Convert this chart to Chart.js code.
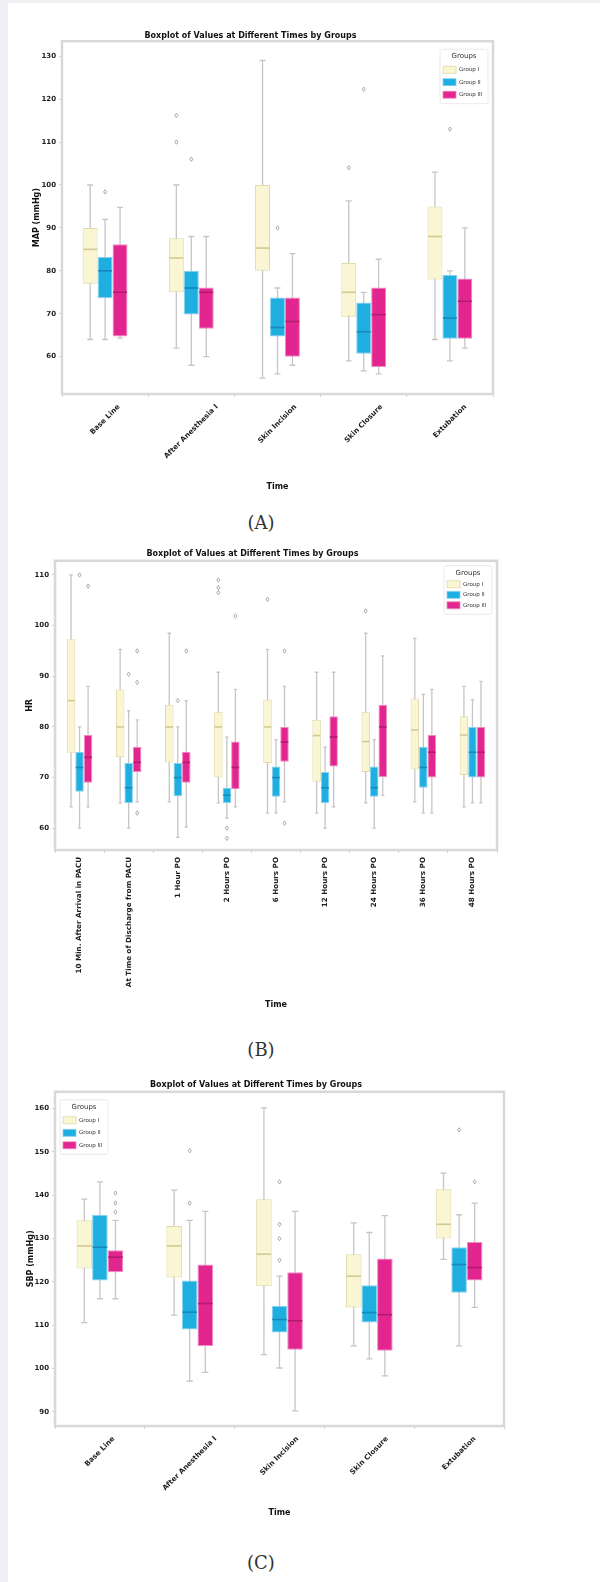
<!DOCTYPE html>
<html>
<head>
<meta charset="utf-8">
<script src="https://cdn.jsdelivr.net/npm/chart.js@4.4.1/dist/chart.umd.min.js"></script>
<style>
  html, body { margin: 0; padding: 0; }
  body { width: 600px; height: 1582px; background: #eef0f3; position: relative; overflow: hidden; }
  .sheet { position: absolute; left: 8px; top: 3px; right: 0; bottom: 0; background: #fff; }
  .wrap { position: absolute; left: 8px; width: 592px; }
  .panel { position: absolute; left: 0; width: 522px; text-align: center; line-height: 21px;
           font-family: "DejaVu Serif", "Liberation Serif", serif; font-size: 18px; color: #333; }
</style>
</head>
<body>
<div class="sheet"></div>
<div class="wrap" style="top:20px;height:480px"><canvas id="chartA"></canvas></div>
<div class="panel" style="top:512px">(A)</div>
<div class="wrap" style="top:540px;height:480px"><canvas id="chartB"></canvas></div>
<div class="panel" style="top:1039px">(B)</div>
<div class="wrap" style="top:1065px;height:460px"><canvas id="chartC"></canvas></div>
<div class="panel" style="top:1552px">(C)</div>

<script>
// ===== DATOS =====
// cada caja: [min, q1, mediana, q3, max]
const groupNames = ['Group I', 'Group II', 'Group III'];

const timesIntraop = ['Base Line', 'After Anesthesia I', 'Skin Incision', 'Skin Closure', 'Extubation'];
const timesPostop = ['10 Min. After Arrival in PACU', 'At Time of Discharge from PACU', '1 Hour PO',
  '2 Hours PO', '6 Hours PO', '12 Hours PO', '24 Hours PO', '36 Hours PO', '48 Hours PO'];

// (A)
const ticksA = [60, 70, 80, 90, 100, 110, 120, 130];
const boxesA_g1 = [[64, 77, 85, 90, 100], [62, 75, 83, 87.6, 100], [55, 80, 85.3, 100, 129], [59, 69.3, 75, 81.8, 96.3], [64, 78, 88, 95, 103]];
const boxesA_g2 = [[64, 73.6, 80, 83.2, 92], [58, 69.8, 76, 80, 88], [56, 64.7, 66.8, 73.8, 76], [56.7, 60.7, 65.8, 72.6, 75], [59, 64.2, 69, 79, 80]];
const boxesA_g3 = [[64.3, 64.7, 75, 86.2, 94.8], [60, 66.5, 75, 76.1, 88], [58, 60, 68.2, 73.8, 84], [56, 57.6, 69.8, 76.1, 82.7], [62, 64.2, 72.9, 78.2, 90]];
const outliersA_g1 = [[1, 116.2], [1, 110], [3, 104]];
const outliersA_g2 = [[0, 98.4], [1, 106], [2, 90], [3, 122.3], [4, 113]];
const outliersA_g3 = [];

// (B)
const ticksB = [60, 70, 80, 90, 100, 110];
const boxesB_g1 = [[64.2, 74.9, 85.2, 97.3, 110], [65, 74, 80, 87.4, 95.3], [65.2, 73, 80, 84.4, 98.5],
  [65, 70, 80, 83, 90.8], [63, 72.9, 80, 85.4, 95.3], [63, 69.2, 78.3, 81.4, 90.8],
  [65, 71.1, 77.1, 83, 98.5], [65.2, 71.6, 79.4, 85.6, 97.5], [64.2, 70.5, 78.4, 82.1, 88]];
const boxesB_g2 = [[60, 67.2, 72, 75.1, 80], [60, 65, 68, 72.9, 83.2], [58.2, 66.3, 70, 72.9, 80],
  [62, 65, 66.5, 68, 78], [63, 66.2, 70, 72.2, 77.5], [60, 65, 68, 71.1, 76],
  [60, 66.2, 68, 72.2, 77.5], [63, 68, 72, 76.1, 86.4], [65, 70, 75, 80, 85.4]];
const boxesB_g3 = [[64.2, 69, 74, 78.4, 88], [65.2, 71.1, 73, 76.1, 81.4], [60.2, 69, 73, 75.1, 85.2],
  [64.2, 67.7, 72, 77.1, 87.4], [65.2, 73.1, 77, 80, 88], [64.2, 72.2, 78, 82.1, 90.8],
  [66.5, 70.1, 80, 84.4, 94], [63, 70, 75, 78.4, 87.4], [65, 70, 75, 80, 89]];
const outliersB_g1 = [[3, 109], [3, 107.5], [3, 106.5], [4, 105.2], [6, 102.9]];
const outliersB_g2 = [[0, 110], [1, 90.4], [2, 85.2], [3, 60], [3, 58]];
const outliersB_g3 = [[0, 107.8], [1, 95], [1, 88.8], [1, 63], [2, 95], [3, 101.9], [4, 95], [4, 61]];

// (C)
const ticksC = [90, 100, 110, 120, 130, 140, 150, 160];
const boxesC_g1 = [[110.6, 123.1, 128.3, 134.2, 139.1], [112.3, 121, 128.3, 132.9, 141.2], [103.2, 119, 126.4, 139.1, 160.2],
  [105.2, 114.1, 121.3, 126.4, 133.6], [125.2, 130, 133.3, 141.4, 145.1]];
const boxesC_g2 = [[116.1, 120.3, 128, 135.5, 143.1], [97.1, 109, 113, 120.3, 134.2], [100.1, 108.3, 111.3, 114.4, 121.3],
  [102.2, 110.6, 112.9, 119.2, 131.4], [105.2, 117.5, 124, 128, 135.5]];
const boxesC_g3 = [[116.1, 122.2, 125.7, 127.3, 134.2], [99.1, 105.2, 115, 124, 136.3], [90.2, 104.3, 111, 122.2, 136.3],
  [98.3, 104.1, 112.4, 125.4, 135.3], [114.1, 120.3, 123.3, 129.2, 138.2]];
const outliersC_g1 = [];
const outliersC_g2 = [[1, 150.3], [1, 138.2], [2, 143.1], [2, 133.3], [2, 130], [2, 125], [4, 155.1]];
const outliersC_g3 = [[0, 140.5], [0, 138.2], [0, 136.1], [4, 143.1]];

// ===== ESTILO =====
const FONT = '"DejaVu Sans", "Liberation Sans", sans-serif';
const palette = [
  { fill: '#faf5d2', edge: '#e0d9a9', median: '#d3ca92' },
  { fill: '#1eaee0', edge: '#86d2ee', median: '#1888b9' },
  { fill: '#e3268f', edge: '#f08ac2', median: '#b01c6e' }
];
const WHISKER = '#c6c6c6';
const FLIER = '#a0a0a0';
const FRAME = '#d8d8d8';
const TEXT = '#1e1e1e';

// ===== PLUGIN: bigotes, medianas, atípicos, marco, leyenda =====
const boxParts = {
  id: 'boxParts',
  beforeDatasetsDraw(chart) {
    const ctx = chart.ctx;
    const y = chart.scales.y;
    chart.data.datasets.forEach((ds, di) => {
      const meta = chart.getDatasetMeta(di);
      meta.data.forEach((bar, i) => {
        const s = ds.stats[i];
        const cap = bar.width * 0.4;
        ctx.save();
        ctx.strokeStyle = WHISKER;
        ctx.lineWidth = 1.3;
        ctx.beginPath();
        ctx.moveTo(bar.x, y.getPixelForValue(s[0]));
        ctx.lineTo(bar.x, y.getPixelForValue(s[4]));
        [s[0], s[4]].forEach(v => {
          const py = y.getPixelForValue(v);
          ctx.moveTo(bar.x - cap / 2, py);
          ctx.lineTo(bar.x + cap / 2, py);
        });
        ctx.stroke();
        ctx.restore();
      });
    });
  },
  afterDatasetsDraw(chart) {
    const ctx = chart.ctx;
    const y = chart.scales.y;
    chart.data.datasets.forEach((ds, di) => {
      const meta = chart.getDatasetMeta(di);
      ctx.save();
      ctx.strokeStyle = palette[di].median;
      ctx.lineWidth = 1.6;
      meta.data.forEach((bar, i) => {
        const py = y.getPixelForValue(ds.stats[i][2]);
        ctx.beginPath();
        ctx.moveTo(bar.x - bar.width / 2 + 0.5, py);
        ctx.lineTo(bar.x + bar.width / 2 - 0.5, py);
        ctx.stroke();
      });
      ctx.strokeStyle = FLIER;
      ctx.lineWidth = 0.9;
      ds.outliers.forEach(([i, v]) => {
        const bar = meta.data[i];
        const py = y.getPixelForValue(v);
        const r = 2.2;
        ctx.beginPath();
        ctx.moveTo(bar.x, py - r);
        ctx.lineTo(bar.x + r * 0.7, py);
        ctx.lineTo(bar.x, py + r);
        ctx.lineTo(bar.x - r * 0.7, py);
        ctx.closePath();
        ctx.stroke();
      });
      ctx.restore();
    });
  },
  afterDraw(chart, args, opts) {
    const ctx = chart.ctx;
    const a = chart.chartArea;

    // marco
    ctx.save();
    ctx.strokeStyle = FRAME;
    ctx.lineWidth = 2.5;
    ctx.strokeRect(a.left, a.top, a.right - a.left, a.bottom - a.top);
    ctx.restore();

    // etiquetas del eje x a 45 grados, centradas en la marca
    if (opts.diagLabels) {
      const xs = chart.scales.x;
      ctx.save();
      ctx.font = 'bold 7.2px ' + FONT;
      ctx.fillStyle = TEXT;
      ctx.textAlign = 'center';
      ctx.textBaseline = 'middle';
      chart.data.labels.forEach((label, i) => {
        const w = ctx.measureText(label).width;
        const px = xs.getPixelForTick(i);
        const cy = a.bottom + 9 + (w + 8) * Math.SQRT1_2 / 2;
        ctx.save();
        ctx.translate(px, cy);
        ctx.rotate(-Math.PI / 4);
        ctx.fillText(label, 0, 0);
        ctx.restore();
      });
      ctx.restore();
    }

    // leyenda
    const gap = opts.legendGap;
    const lw = 48, lh = 17 + gap * 3;
    const lx = opts.legendSide === 'left' ? a.left + 5 : a.right - lw - 5;
    const ly = a.top + opts.legendTop;
    ctx.save();
    ctx.fillStyle = 'rgba(255,255,255,0.85)';
    ctx.strokeStyle = '#e4e4e4';
    ctx.lineWidth = 0.8;
    ctx.beginPath();
    ctx.roundRect(lx, ly, lw, lh, 2);
    ctx.fill();
    ctx.stroke();
    ctx.fillStyle = '#333';
    ctx.font = '7px ' + FONT;
    ctx.textAlign = 'center';
    ctx.textBaseline = 'middle';
    ctx.fillText('Groups', lx + lw / 2, ly + 7);
    ctx.textAlign = 'left';
    ctx.font = '5.5px ' + FONT;
    chart.data.datasets.forEach((ds, di) => {
      const ry = ly + 8 + gap * (di + 1);
      ctx.fillStyle = palette[di].fill;
      ctx.strokeStyle = palette[di].edge;
      ctx.fillRect(lx + 3, ry - 3.5, 13, 7);
      ctx.strokeRect(lx + 3, ry - 3.5, 13, 7);
      ctx.fillStyle = '#333';
      ctx.fillText(ds.label, lx + 19, ry);
    });
    ctx.restore();
  }
};

function makeDatasets(boxes, outliers) {
  return boxes.map((stats, di) => ({
    label: groupNames[di],
    data: stats.map(s => [s[1], s[3]]),
    stats: stats,
    outliers: outliers[di],
    backgroundColor: palette[di].fill,
    borderColor: palette[di].edge,
    borderWidth: 1,
    borderSkipped: false,
    categoryPercentage: 0.52,
    barPercentage: 1
  }));
}

function makeChart(id, cfg) {
  const tickFont = { family: FONT, size: 7, weight: 'bold' };
  const axisTitleFont = { family: FONT, size: 8, weight: 'bold' };
  return new Chart(document.getElementById(id), {
    type: 'bar',
    data: { labels: cfg.labels, datasets: makeDatasets(cfg.boxes, cfg.outliers) },
    plugins: [boxParts],
    options: {
      responsive: true,
      maintainAspectRatio: false,
      animation: false,
      layout: { padding: { left: 0, right: cfg.padRight, top: 0, bottom: 0 } },
      plugins: {
        legend: { display: false },
        tooltip: { enabled: false },
        title: {
          display: true,
          text: 'Boxplot of Values at Different Times by Groups',
          color: '#111',
          font: { family: FONT, size: 8, weight: 'bold' },
          padding: { top: cfg.titleTop, bottom: cfg.titleBottom }
        },
        boxParts: { diagLabels: cfg.diagLabels, legendSide: cfg.legendSide, legendTop: cfg.legendTop, legendGap: cfg.legendGap }
      },
      scales: {
        x: {
          type: 'category',
          grid: { display: true, drawOnChartArea: false, drawTicks: true, tickLength: 3, color: '#cfcfcf' },
          border: { display: false },
          ticks: {
            display: !cfg.diagLabels,
            autoSkip: false,
            minRotation: 90,
            maxRotation: 90,
            padding: 4,
            color: TEXT,
            font: { family: FONT, size: 7.2, weight: 'bold' }
          },
          title: { display: true, text: 'Time', color: '#111', font: axisTitleFont, padding: { top: 0, bottom: cfg.timeBottom } },
          afterFit: s => { s.height = cfg.xHeight; }
        },
        y: {
          min: cfg.yMin,
          max: cfg.yMax,
          afterBuildTicks: s => { s.ticks = cfg.ticks.map(v => ({ value: v })); },
          grid: { display: true, drawOnChartArea: false, drawTicks: true, tickLength: 3, color: '#cfcfcf' },
          border: { display: false },
          ticks: { padding: 3, color: TEXT, font: tickFont },
          title: { display: true, text: cfg.yTitle, color: '#111', font: axisTitleFont, padding: { top: cfg.yTitlePad, bottom: 0 } },
          afterFit: s => { s.width = cfg.yWidth; }
        }
      }
    }
  });
}

document.addEventListener('DOMContentLoaded', () => {
  makeChart('chartA', {
    labels: timesIntraop,
    boxes: [boxesA_g1, boxesA_g2, boxesA_g3],
    outliers: [outliersA_g1, outliersA_g2, outliersA_g3],
    ticks: ticksA, yMin: 51.3, yMax: 133.5,
    yTitle: 'MAP (mmHg)', yTitlePad: 24,
    yWidth: 54, xHeight: 106, padRight: 107,
    titleTop: 11.6, titleBottom: 0, timeBottom: 8.2,
    diagLabels: true, legendSide: 'right', legendTop: 8, legendGap: 12.5
  });
  makeChart('chartB', {
    labels: timesPostop,
    boxes: [boxesB_g1, boxesB_g2, boxesB_g3],
    outliers: [outliersB_g1, outliersB_g2, outliersB_g3],
    ticks: ticksB, yMin: 55.7, yMax: 112.8,
    yTitle: 'HR', yTitlePad: 17,
    yWidth: 47, xHeight: 170, padRight: 103,
    titleTop: 9.6, titleBottom: 1.6, timeBottom: 10.2,
    diagLabels: false, legendSide: 'right', legendTop: 5, legendGap: 10.5
  });
  makeChart('chartC', {
    labels: timesIntraop,
    boxes: [boxesC_g1, boxesC_g2, boxesC_g3],
    outliers: [outliersC_g1, outliersC_g2, outliersC_g3],
    ticks: ticksC, yMin: 86.7, yMax: 163.9,
    yTitle: 'SBP (mmHg)', yTitlePad: 18,
    yWidth: 47, xHeight: 99, padRight: 96,
    titleTop: 15.6, titleBottom: 1.6, timeBottom: 7.2,
    diagLabels: true, legendSide: 'left', legendTop: 8, legendGap: 12.5
  });
});
</script>
</body>
</html>
